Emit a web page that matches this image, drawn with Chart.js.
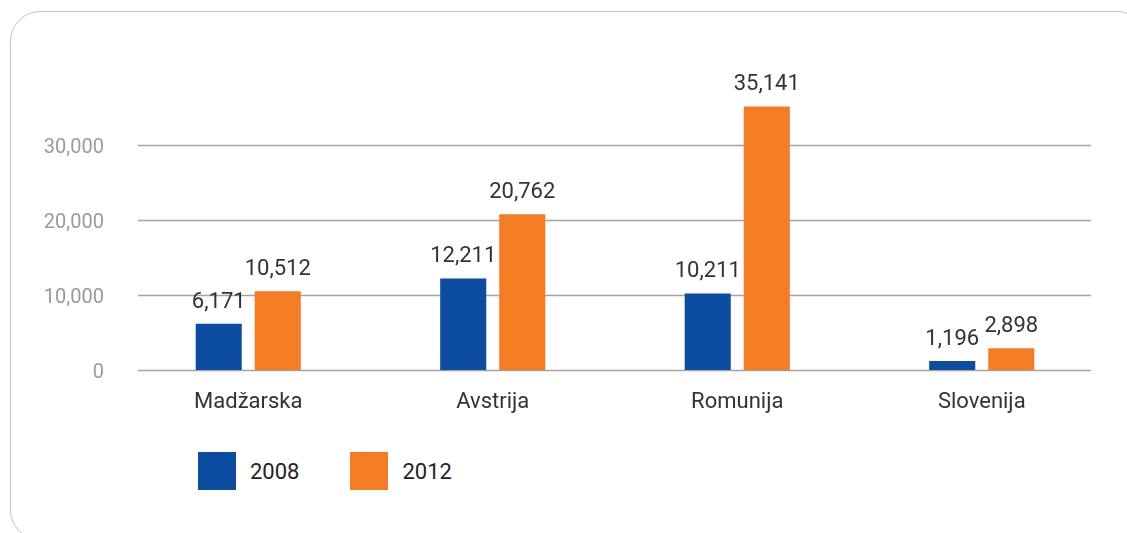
<!DOCTYPE html>
<html lang="sl">
<head>
  <meta charset="UTF-8" />
  <title>2008 / 2012</title>
  <script src="https://cdn.jsdelivr.net/npm/chart.js"></script>
  <style>
    html, body { margin: 0; padding: 0; background: #fff; overflow: hidden; }
    body { width: 1127px; height: 533px; position: relative; font-family: Roboto, sans-serif; }
    .frame {
      position: absolute; left: 10px; top: 11px; width: 1137px; height: 529px;
      border: 1px solid #c4c4c4; border-radius: 30px; box-sizing: border-box;
    }
    #wrap { position: absolute; left: 0; top: 0; width: 1127px; height: 440px; }
    #legend { position: absolute; left: 198px; top: 452px; display: flex; }
    .item { display: flex; align-items: center; margin-right: 51px; }
    .box { width: 38px; height: 38px; margin-right: 14px; }
    .lbl { font-size: 22px; color: #222; }
  </style>
</head>
<body>
  <div class="frame"></div>
  <div id="wrap"><canvas id="chart" width="1127" height="440"></canvas></div>
  <div id="legend"></div>

  <script>
    // data
    const countries = ["Madžarska", "Avstrija", "Romunija", "Slovenija"];
    const years = ["2008", "2012"];
    const values2008 = [6171, 12211, 10211, 1196];
    const values2012 = [10512, 20762, 35141, 2898];
    const yTicks = [0, 10000, 20000, 30000];
    const colors = ["#0c4da2", "#f47c22"];

    const fmt = v => v.toLocaleString("en-US");

    // gridlines a bit inset from the category bands
    const gridPlugin = {
      id: "grid",
      beforeDatasetsDraw(chart) {
        const { ctx, chartArea, scales } = chart;
        ctx.save();
        ctx.strokeStyle = "#a3a3a3";
        ctx.lineWidth = 1.3;
        yTicks.forEach(t => {
          const y = Math.round(scales.y.getPixelForValue(t)) + 0.5;
          ctx.beginPath();
          ctx.moveTo(chartArea.left + 12, y);
          ctx.lineTo(chartArea.right - 13, y);
          ctx.stroke();
        });
        ctx.restore();
      }
    };

    // value labels above bars
    const labelPlugin = {
      id: "valueLabels",
      afterDatasetsDraw(chart) {
        const ctx = chart.ctx;
        ctx.save();
        ctx.font = "22px Roboto";
        ctx.fillStyle = "#333";
        ctx.textAlign = "center";
        ctx.textBaseline = "alphabetic";
        chart.data.datasets.forEach((ds, i) => {
          chart.getDatasetMeta(i).data.forEach((bar, j) => {
            ctx.fillText(fmt(ds.data[j]), bar.x, bar.y - 16);
          });
        });
        ctx.restore();
      }
    };

    new Chart(document.getElementById("chart").getContext("2d"), {
      type: "bar",
      data: {
        labels: countries,
        datasets: [
          { label: years[0], data: values2008, backgroundColor: colors[0] },
          { label: years[1], data: values2012, backgroundColor: colors[1] }
        ]
      },
      options: {
        responsive: false,
        animation: false,
        layout: { padding: { top: 70, right: 23, left: 0, bottom: 0 } },
        datasets: { bar: { categoryPercentage: 0.483, barPercentage: 0.78 } },
        plugins: { legend: { display: false }, tooltip: { enabled: false } },
        scales: {
          x: {
            grid: { display: false },
            border: { display: false },
            ticks: { font: { family: "Roboto", size: 22 }, color: "#333", padding: 11 },
            afterFit: s => { s.height = 70; }
          },
          y: {
            min: 0,
            max: 40000,
            grid: { display: false },
            border: { display: false },
            afterBuildTicks: s => { s.ticks = yTicks.map(v => ({ value: v })); },
            ticks: {
              font: { family: "Roboto", size: 20 },
              color: "#9a9a9a",
              padding: 14,
              labelOffset: 3,
              callback: v => fmt(v)
            },
            afterFit: s => { s.width = 126; }
          }
        }
      },
      plugins: [gridPlugin, labelPlugin]
    });

    // legend
    const legend = document.getElementById("legend");
    years.forEach((y, i) => {
      legend.innerHTML += '<div class="item"><div class="box" style="background:' + colors[i] +
        '"></div><span class="lbl">' + y + '</span></div>';
    });
  </script>
</body>
</html>
